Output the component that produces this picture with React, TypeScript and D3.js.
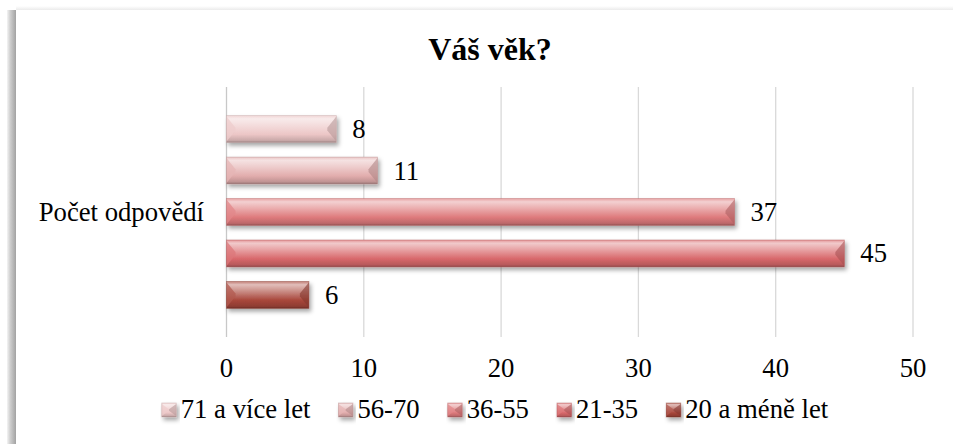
import React, { useEffect, useRef } from "react";
import * as d3 from "d3";

const title = "Váš věk?";
const categories = ["Počet odpovědí"];
const seriesNames = ["20 a méně let", "21-35", "36-55", "56-70", "71 a více let"];
const seriesValues = [6, 45, 37, 11, 8];
const seriesColors = ["#a8463b", "#d8686b", "#de7a7c", "#e2adad", "#ecc6c6"];
const xTicks = [0, 10, 20, 30, 40, 50];

const W = 953;
const H = 444;
const FONT = "'Liberation Serif', 'Times New Roman', serif";

export default function App() {
  const ref = useRef<SVGSVGElement | null>(null);

  useEffect(() => {
    const svg = d3.select(ref.current);
    svg.selectAll("*").remove();

    const defs = svg.append("defs");

    // frame shadow
    const sg = defs.append("linearGradient").attr("id", "frameShadow").attr("x1", 0).attr("x2", 1).attr("y1", 0).attr("y2", 0);
    sg.append("stop").attr("offset", 0).attr("stop-color", "#f4f4f4");
    sg.append("stop").attr("offset", 0.35).attr("stop-color", "#cfcfcf");
    sg.append("stop").attr("offset", 1).attr("stop-color", "#a2a2a2");
    const tg = defs.append("linearGradient").attr("id", "frameShadowTop").attr("x1", 0).attr("x2", 0).attr("y1", 0).attr("y2", 1);
    tg.append("stop").attr("offset", 0).attr("stop-color", "#ffffff");
    tg.append("stop").attr("offset", 1).attr("stop-color", "#ebebeb");

    const filt = defs.append("filter").attr("id", "barShadow").attr("x", "-10%").attr("y", "-30%").attr("width", "130%").attr("height", "190%");
    filt.append("feDropShadow").attr("dx", 2).attr("dy", 3).attr("stdDeviation", 2).attr("flood-color", "#000").attr("flood-opacity", 0.35);

    seriesColors.forEach((c, i) => {
      const base = d3.color(c)!;
      const mixW = (t: number) => d3.interpolateRgb(c, "#ffffff")(t);
      const g = defs.append("linearGradient").attr("id", "bg" + i).attr("x1", 0).attr("x2", 0).attr("y1", 0).attr("y2", 1);
      g.append("stop").attr("offset", 0).attr("stop-color", mixW(0.3));
      g.append("stop").attr("offset", 0.12).attr("stop-color", mixW(0.65));
      g.append("stop").attr("offset", 0.35).attr("stop-color", mixW(0.4));
      g.append("stop").attr("offset", 0.7).attr("stop-color", c);
      g.append("stop").attr("offset", 0.92).attr("stop-color", base.darker(0.45).formatHex());
      g.append("stop").attr("offset", 1).attr("stop-color", base.darker(1.2).formatHex());
    });

    // background / frame
    svg.append("rect").attr("x", 0).attr("y", 0).attr("width", W).attr("height", H).attr("fill", "#ffffff");
    svg.append("rect").attr("x", 7).attr("y", 10).attr("width", 9).attr("height", H - 10).attr("fill", "url(#frameShadow)");
    svg.append("rect").attr("x", 16).attr("y", 6).attr("width", W - 16).attr("height", 4).attr("fill", "url(#frameShadowTop)");

    const x = d3.scaleLinear().domain([0, 50]).range([226.5, 913]);
    const order = seriesNames.map((_, i) => i).reverse();
    const y = d3
      .scaleBand<number>()
      .domain(order)
      .range([87, 337])
      .paddingInner(0.35)
      .paddingOuter(0.69);

    // gridlines
    svg
      .append("g")
      .selectAll("line")
      .data(xTicks)
      .join("line")
      .attr("x1", (d) => x(d))
      .attr("x2", (d) => x(d))
      .attr("y1", 87)
      .attr("y2", 337)
      .attr("stroke", (d) => (d === 0 ? "#c8c8c8" : "#d9d9d9"))
      .attr("stroke-width", 1.3);

    // tick labels
    svg
      .append("g")
      .selectAll("text")
      .data(xTicks)
      .join("text")
      .attr("x", (d) => x(d))
      .attr("y", 377)
      .attr("text-anchor", "middle")
      .attr("font-family", FONT)
      .attr("font-size", 26.7)
      .attr("fill", "#000")
      .text((d) => String(d));

    // category label
    svg
      .append("text")
      .attr("x", 204)
      .attr("y", 221)
      .attr("text-anchor", "end")
      .attr("font-family", FONT)
      .attr("font-size", 26.7)
      .attr("fill", "#000")
      .text(categories[0]);

    // bars
    const drawBevel = (g: any, x0: number, y0: number, w: number, h: number, i: number) => {
      const c = seriesColors[i];
      const base = d3.color(c)!;
      const x1 = x0 + w;
      const y1 = y0 + h;
      const b = Math.min(9, w / 2);
      g.append("rect").attr("x", x0).attr("y", y0).attr("width", w).attr("height", h).attr("fill", `url(#bg${i})`);
      g.append("polygon")
        .attr("points", [[x0, y0 + 1], [x0 + b, y0 + h * 0.45], [x0 + b, y0 + h * 0.55], [x0, y1 - 1]].map((p) => p.join(",")).join(" "))
        .attr("fill", d3.interpolateRgb(c, "#ffffff")(0.1))
        .attr("opacity", 0.75);
      g.append("polygon")
        .attr("points", [[x1, y0 + 1], [x1 - b, y0 + h * 0.45], [x1 - b, y0 + h * 0.55], [x1, y1 - 1]].map((p) => p.join(",")).join(" "))
        .attr("fill", base.darker(0.7).formatHex())
        .attr("opacity", 0.6);
      g.append("rect").attr("x", x0).attr("y", y0).attr("width", w).attr("height", h).attr("fill", "none")
        .attr("stroke", base.darker(0.6).formatHex()).attr("stroke-opacity", 0.5).attr("stroke-width", 0.8);
    };

    const bars = svg.append("g");
    seriesValues.forEach((v, i) => {
      const g = bars.append("g").attr("filter", "url(#barShadow)");
      const y0 = y(i)!;
      const h = y.bandwidth();
      drawBevel(g, x(0), y0, x(v) - x(0), h, i);
    });

    // value labels
    svg
      .append("g")
      .selectAll("text")
      .data(seriesValues)
      .join("text")
      .attr("x", (d) => x(d) + 16)
      .attr("y", (_, i) => y(i)! + y.bandwidth() / 2 + 9)
      .attr("font-family", FONT)
      .attr("font-size", 26.7)
      .attr("fill", "#000")
      .text((d) => String(d));

    // title
    svg
      .append("text")
      .attr("x", 490)
      .attr("y", 60)
      .attr("text-anchor", "middle")
      .attr("font-family", FONT)
      .attr("font-weight", "bold")
      .attr("font-size", 32)
      .attr("fill", "#000")
      .text(title);

    // legend
    const legendItems = order;
    const lg = svg.append("g");
    const ms = 14.5;
    const gapMT = 4.5;
    const gapItem = 28;
    const items: { i: number; tw: number }[] = [];
    legendItems.forEach((i) => {
      const t = lg.append("text").attr("font-family", FONT).attr("font-size", 26.7).text(seriesNames[i]);
      const tw = (t.node() as SVGTextElement).getComputedTextLength();
      t.remove();
      items.push({ i, tw });
    });
    const total = items.reduce((s, it) => s + ms + gapMT + it.tw, 0) + gapItem * (items.length - 1);
    let cx = 495 - total / 2;
    items.forEach(({ i, tw }) => {
      const g = lg.append("g").attr("filter", "url(#barShadow)");
      drawBevel(g, cx, 403, ms, 14, i);
      lg.append("text")
        .attr("x", cx + ms + gapMT)
        .attr("y", 418)
        .attr("font-family", FONT)
        .attr("font-size", 26.7)
        .attr("fill", "#000")
        .text(seriesNames[i]);
      cx += ms + gapMT + tw + gapItem;
    });
  }, []);

  return (
    <svg
      ref={ref}
      width={W}
      height={H}
      style={{ position: "absolute", left: 0, top: 0, display: "block" }}
    />
  );
}
